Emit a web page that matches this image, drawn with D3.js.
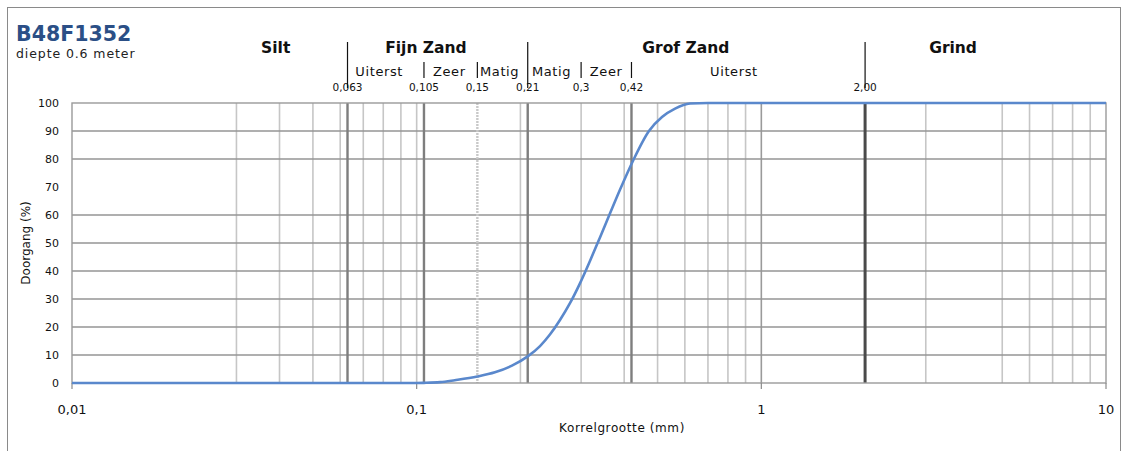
<!DOCTYPE html>
<html>
<head>
<meta charset="utf-8">
<script src="https://cdn.jsdelivr.net/npm/d3@7"></script>
<style>
  body { margin: 0; background: #fff; }
  text { font-family: "DejaVu Sans", sans-serif; fill: #111; }
</style>
</head>
<body>
<svg id="chart" width="1131" height="451"></svg>
<script>
// sieve curve (korrelgrootte in mm, doorgang in %)
const sizes   = [0.01, 0.1, 0.105, 0.117, 0.129, 0.15, 0.1687, 0.189, 0.21, 0.228, 0.2436, 0.2605, 0.2785, 0.2977, 0.3183, 0.3403, 0.3637, 0.3889, 0.4241, 0.472, 0.515, 0.562, 0.621, 0.7, 10];
const passing = [0, 0, 0.05, 0.3, 1, 2.3, 3.8, 6.2, 9.5, 13.2, 17.3, 22.5, 28.5, 35.6, 43.6, 52, 60.5, 69, 79.3, 90, 95, 98, 99.8, 100, 100];

// grid as it shows in the picture
const vGrid = [0.03, 0.04, 0.05, 0.06, 0.07, 0.08, 0.09, 0.1, 0.2, 0.3, 0.4, 0.5, 0.6, 0.7, 0.8, 0.9, 1, 3, 5, 6, 7, 8, 9];
const hGrid = [10, 20, 30, 40, 50, 60, 80, 90];
const yTicks = [0, 10, 20, 30, 40, 50, 60, 70, 80, 90, 100];
const xTicks = [0.01, 0.1, 1, 10];
const xTickLabels = ["0,01", "0,1", "1", "10"];

// fraction boundaries
const bounds = [0.063, 0.105, 0.15, 0.21, 0.3, 0.42, 2.0];
const boundLabels = ["0,063", "0,105", "0,15", "0,21", "0,3", "0,42", "2,00"];
const mainBounds = [0.063, 0.21, 2.0];

const mainNames = ["Silt", "Fijn Zand", "Grof Zand", "Grind"];
const mainPos = [0.039, 0.1064, 0.604, 3.6];
const subNames = ["Uiterst", "Zeer", "Matig", "Matig", "Zeer", "Uiterst"];
const subPos = [0.0664, 0.1115, 0.1527, 0.216, 0.318, 0.71];

const svg = d3.select("#chart");

const plotLeft = 72, plotRight = 1106, plotTop = 103, plotBottom = 383;

let x = d3.scaleLog().domain([0.01, 10]).range([plotLeft, plotRight]);
let y = d3.scaleLinear().domain([0, 100]).range([plotBottom, plotTop]);

// outer frame
svg.append("rect")
  .attr("x", 7.5).attr("y", 7.5).attr("width", 1113).attr("height", 460)
  .attr("fill", "none").attr("stroke", "#8a8a8a").attr("stroke-width", 1);

// title
svg.append("text").attr("x", 16).attr("y", 41)
  .style("font-size", "20.5px").style("font-weight", "bold").style("fill", "#2b4f86")
  .text("B48F1352");
svg.append("text").attr("x", 16).attr("y", 58)
  .style("font-size", "12.5px").style("letter-spacing", "0.9px").style("fill", "#222")
  .text("diepte 0.6 meter");

// grid
let grid = svg.append("g");

grid.selectAll(".v").data(vGrid).enter().append("line")
  .attr("x1", d => x(d)).attr("x2", d => x(d))
  .attr("y1", plotTop).attr("y2", plotBottom)
  .attr("stroke", d => d == 1 ? "#9a9a9a" : "#c6c6c6")
  .attr("stroke-width", 1.6);

grid.selectAll(".h").data(hGrid).enter().append("line")
  .attr("x1", plotLeft).attr("x2", plotRight)
  .attr("y1", d => y(d)).attr("y2", d => y(d))
  .attr("stroke", "#959595").attr("stroke-width", 1.4);

// boundary lines inside the plot
grid.selectAll(".b").data(bounds.filter(d => d != 0.3)).enter().append("line")
  .attr("x1", d => x(d)).attr("x2", d => x(d))
  .attr("y1", plotTop).attr("y2", plotBottom)
  .attr("stroke", d => d == 2 ? "#4a4a4a" : (d == 0.15 ? "#c8c8c8" : "#7e7e7e"))
  .attr("stroke-width", d => d == 2 ? 3 : 2.4)
  .attr("stroke-dasharray", d => d == 0.15 ? "2,1" : null);

// plot border
svg.append("rect")
  .attr("x", plotLeft).attr("y", plotTop).attr("width", plotRight - plotLeft).attr("height", plotBottom - plotTop)
  .attr("fill", "none").attr("stroke", "#9a9a9a").attr("stroke-width", 1.4);

// ticks below the x axis
svg.selectAll(".xt").data(xTicks).enter().append("line")
  .attr("x1", d => x(d)).attr("x2", d => x(d))
  .attr("y1", plotBottom).attr("y2", plotBottom + 6)
  .attr("stroke", "#8a8a8a").attr("stroke-width", 1.2);

svg.selectAll(".xl").data(xTicks).enter().append("text")
  .attr("x", d => x(d)).attr("y", 414)
  .attr("text-anchor", "middle")
  .style("font-size", "13px")
  .text((d, i) => xTickLabels[i]);

svg.selectAll(".yl").data(yTicks).enter().append("text")
  .attr("x", 59).attr("y", d => y(d) + 4)
  .attr("text-anchor", "end")
  .style("font-size", "11px")
  .text(d => d);

svg.append("text")
  .attr("transform", "translate(30,243) rotate(-90)")
  .attr("text-anchor", "middle")
  .style("font-size", "12px")
  .text("Doorgang (%)");

svg.append("text")
  .attr("x", 622).attr("y", 432)
  .attr("text-anchor", "middle")
  .style("font-size", "12px").style("letter-spacing", "0.6px")
  .text("Korrelgrootte (mm)");

// fraction names
svg.selectAll(".mn").data(mainNames).enter().append("text")
  .attr("x", (d, i) => x(mainPos[i])).attr("y", 53)
  .attr("text-anchor", "middle")
  .style("font-size", "15.5px").style("font-weight", "bold")
  .text(d => d);

svg.selectAll(".sn").data(subNames).enter().append("text")
  .attr("x", (d, i) => x(subPos[i])).attr("y", 76)
  .style("font-size", "13px").style("letter-spacing", "0.6px")
  .text(d => d);

svg.selectAll(".bm").data(bounds).enter().append("line")
  .attr("x1", d => x(d)).attr("x2", d => x(d))
  .attr("y1", d => mainBounds.includes(d) ? 42 : 62)
  .attr("y2", d => mainBounds.includes(d) ? 88 : 78)
  .attr("stroke", "#111").attr("stroke-width", 1.2);

svg.selectAll(".bl").data(bounds).enter().append("text")
  .attr("x", d => x(d)).attr("y", 91)
  .attr("text-anchor", "middle")
  .style("font-size", "10.5px")
  .text((d, i) => boundLabels[i]);

// the curve
let pts = sizes.map((s, i) => [s, passing[i]]);
let line = d3.line()
  .x(d => x(d[0]))
  .y(d => y(d[1]))
  .curve(d3.curveMonotoneX);

svg.append("path")
  .datum(pts)
  .attr("d", line)
  .attr("fill", "none")
  .attr("stroke", "#5a88cc")
  .attr("stroke-width", 2.6);
</script>
</body>
</html>
